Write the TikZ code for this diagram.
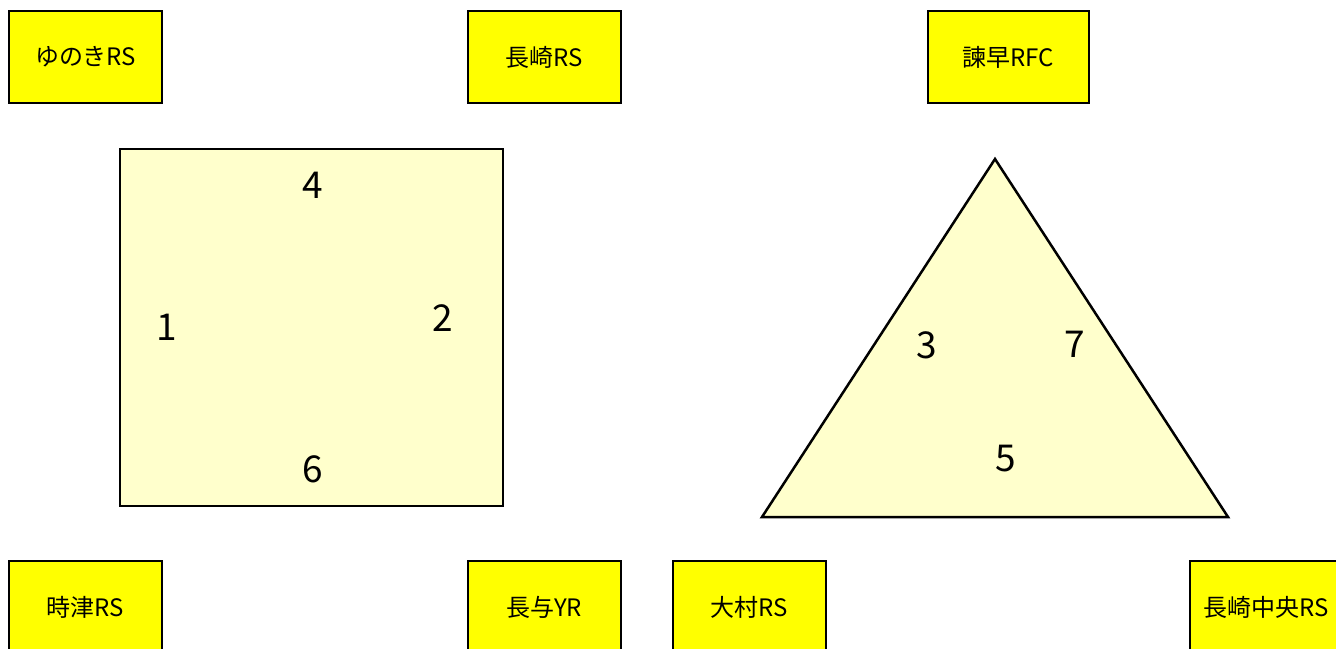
\documentclass[tikz,border=0pt]{standalone}
\usepackage{fontspec}
\setmainfont{Noto Sans CJK JP}
\definecolor{paleyellow}{RGB}{255,255,204}
\definecolor{clubyellow}{RGB}{255,255,0}
\tikzset{
  club/.style={draw, line width=2pt, fill=clubyellow, minimum width=153pt, minimum height=92pt, inner sep=2pt, font=\fontsize{24}{28}\selectfont},
  field/.style={draw, line width=2.5pt, fill=paleyellow, line join=miter},
  num/.style={font=\fontsize{37}{40}\selectfont}
}
\begin{document}
\begin{tikzpicture}[x=1pt,y=-1pt]
\useasboundingbox(0,0)rectangle(1336,648);
% teams
\node[club](yunoki) at (85.5,57){ゆのきRS};
\node[club](nagasaki) at (544,57){長崎RS};
\node[club,minimum width=161pt](isahaya) at (1008.5,57){諫早RFC};
\node[club](togitsu) at (85.5,607){時津RS};
\node[club](nagayo) at (544,607){長与YR};
\node[club](omura) at (749.5,607){大村RS};
\node[club](chuo) at (1266.5,607){長崎中央RS};
% fields
\draw[field](120,149)rectangle(503,506);
\draw[field](995,159)--(1228,517)--(762,517)--cycle;
\foreach \n/\x/\y in{4/313/185,1/167/327,2/443/318,6/313/469,3/927/345,7/1075/344,5/1006/459}
\node[num](n\n) at (\x,\y){\n};
\end{tikzpicture}
\end{document}
